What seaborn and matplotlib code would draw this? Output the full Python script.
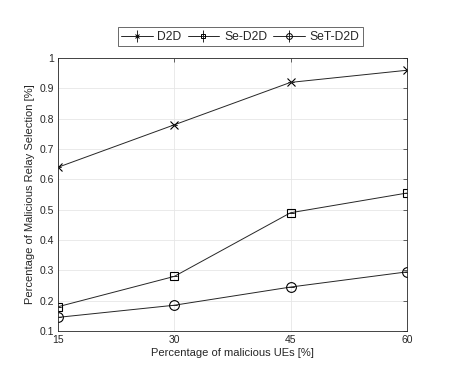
import numpy as np
import pandas as pd
import matplotlib
matplotlib.use("Agg")
import matplotlib.pyplot as plt
import seaborn as sns

x_vals = [15, 30, 45, 60]
d2d = [0.64, 0.78, 0.92, 0.96]
se_d2d = [0.18, 0.28, 0.49, 0.555]
set_d2d = [0.145, 0.185, 0.245, 0.295]
series_names = ["D2D", "Se-D2D", "SeT-D2D"]
markers = ["x", "s", "o"]
marker_sizes = [6, 6, 7]

sns.set_theme(style="whitegrid")
plt.rcParams['font.family'] = ['Liberation Sans', 'DejaVu Sans']

df = pd.DataFrame({
    "x": x_vals * 3,
    "y": d2d + se_d2d + set_d2d,
    "series": sum([[n] * 4 for n in series_names], []),
})

fig = plt.figure(figsize=(4.49, 3.68), dpi=100)
ax = fig.add_axes([0.129, 0.1005, 0.777, 0.7415])

for name, m, ms in zip(series_names, markers, marker_sizes):
    sub = df[df.series == name]
    sns.lineplot(data=sub, x="x", y="y", ax=ax, color="#262626", linewidth=0.7,
                 marker=m, markersize=ms, markerfacecolor="none",
                 markeredgecolor="black", markeredgewidth=0.8, legend=False)
    ax.errorbar(sub["x"], sub["y"], yerr=np.zeros(len(sub)), fmt="none",
                ecolor="#262626", elinewidth=0.7, capsize=2.5, capthick=0.7)

leg_handles = []
for name, m, ms in zip(series_names, markers, marker_sizes):
    leg_handles.append(ax.errorbar([], [], yerr=[], fmt="-", marker=m, markersize=ms * 0.6,
                                   markerfacecolor="none", markeredgecolor="black",
                                   color="#262626", linewidth=0.7, elinewidth=0.7,
                                   capsize=2.5, markeredgewidth=0.7))

ax.set_xlim(15, 60)
ax.set_ylim(0.1, 1.0)
ax.set_xticks(x_vals)
ax.set_yticks(np.round(np.arange(0.1, 1.01, 0.1), 1))
ax.set_yticklabels(["0.1", "0.2", "0.3", "0.4", "0.5", "0.6", "0.7", "0.8", "0.9", "1"])
ax.set_xlabel("Percentage of malicious UEs [%]", fontsize=8, color="#262626", labelpad=2)
ax.set_ylabel("Percentage of Malicious Relay Selection [%]", fontsize=8, color="#262626", labelpad=3)
ax.tick_params(axis="both", labelsize=7.5, colors="#262626", direction="in",
               length=3, width=0.5, top=True, right=True, pad=3)
ax.grid(True, color="#e6e6e6", linewidth=0.6)
ax.set_facecolor("white")
for s in ax.spines.values():
    s.set_color("#262626")
    s.set_linewidth(0.6)

leg = fig.legend(leg_handles, series_names, loc="center", bbox_to_anchor=(0.535, 0.9),
                 ncol=3, fontsize=8.7, frameon=True, fancybox=False, handlelength=2.6,
                 handletextpad=0.4, columnspacing=0.5, borderpad=0.3)
leg.get_frame().set_edgecolor("#262626")
leg.get_frame().set_linewidth(0.6)

fig.savefig("out.png", dpi=100)
